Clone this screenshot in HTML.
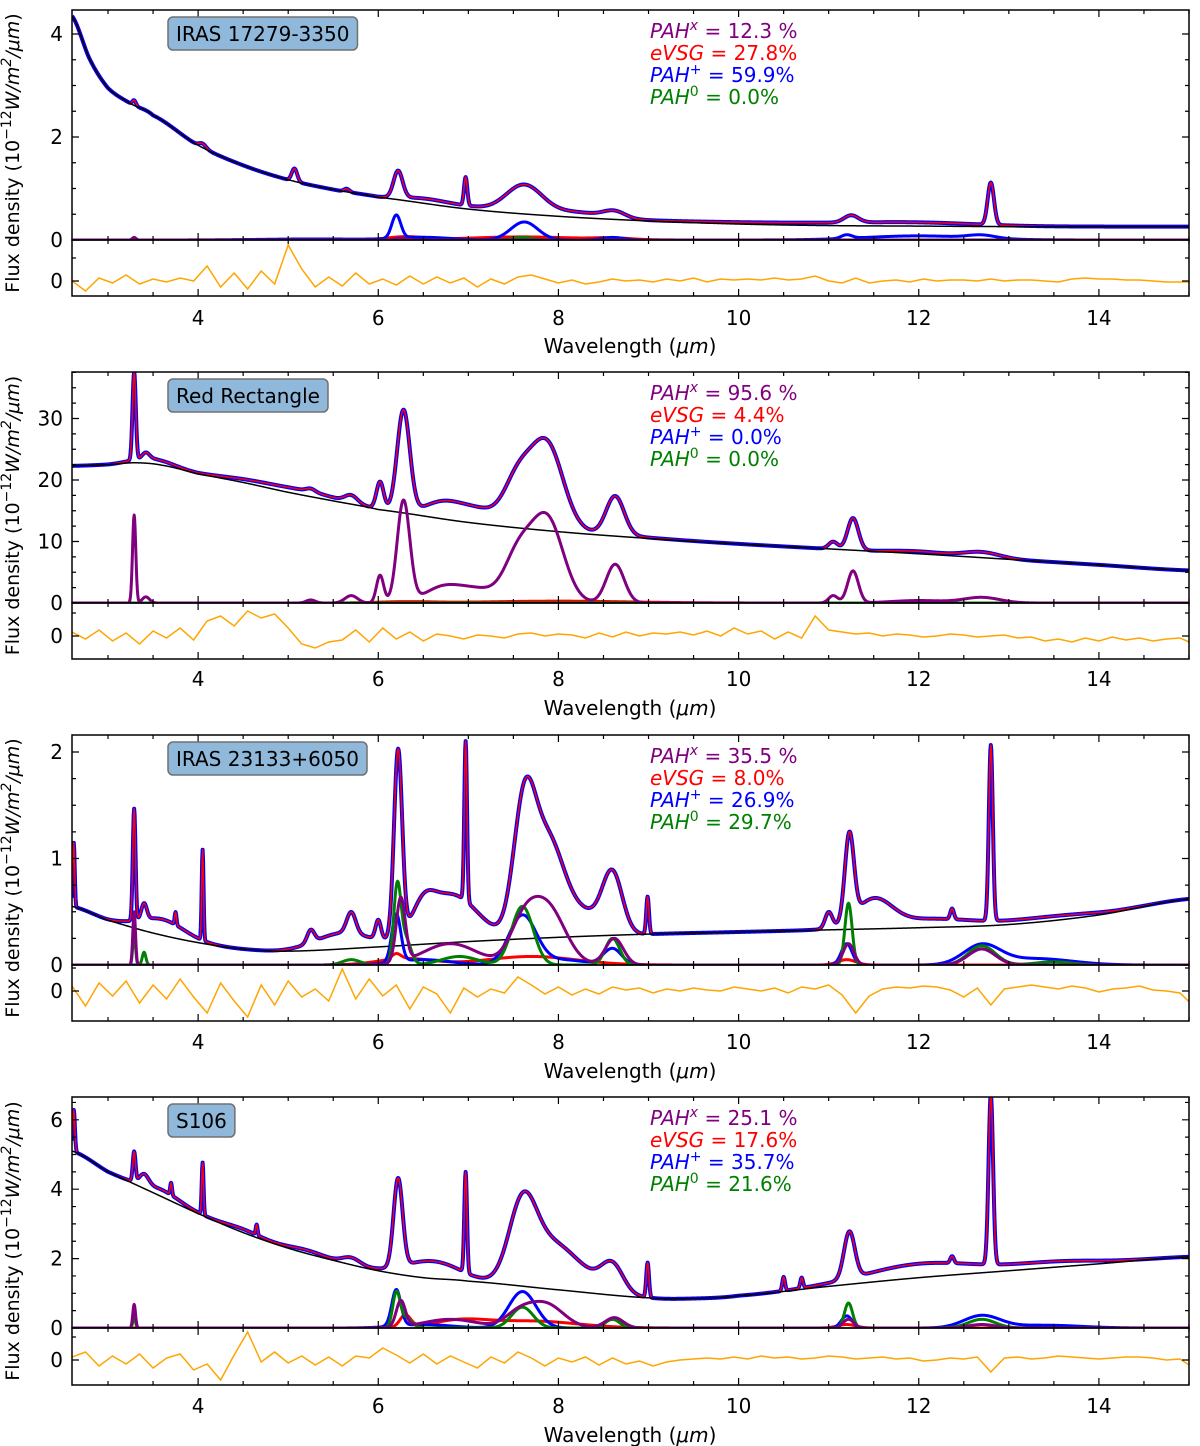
<!DOCTYPE html>
<html><head><meta charset="utf-8"><style>
html,body{margin:0;padding:0;background:#fff}
svg{display:block;font-family:"DejaVu Sans","Liberation Sans",sans-serif}
</style></head><body>
<svg id="fig" width="1200" height="1446" viewBox="0 0 1200 1446" xmlns="http://www.w3.org/2000/svg"></svg>
<script>
// ===== data =====
const xMin = 2.6, xMax = 15;
const xTicks = [4, 6, 8, 10, 12, 14];
const panelNames = ["IRAS 17279-3350", "Red Rectangle", "IRAS 23133+6050", "S106"];
const fracPAHx = ["12.3 %", "95.6 %", "35.5 %", "25.1 %"];
const fracVSG = ["27.8%", "4.4%", "8.0%", "17.6%"];
const fracPAHp = ["59.9%", "0.0%", "26.9%", "35.7%"];
const fracPAH0 = ["0.0%", "0.0%", "29.7%", "21.6%"];
const yTicks1 = [0, 2, 4];
const yTicks2 = [0, 10, 20, 30];
const yTicks3 = [0, 1, 2];
const yTicks4 = [0, 2, 4, 6];

// panel 1 continuum & features [center, amplitude, sigma]
const p1ContX = [2.6,2.8,3,3.25,3.5,4,4.5,5,5.5,6,7,8,9,10,11,12,13,14,15];
const p1ContY = [4.35,3.5,2.95,2.65,2.42,1.84,1.45,1.17,0.98,0.83,0.6,0.46,0.37,0.31,0.28,0.27,0.26,0.26,0.26];
const p1Total = [[3.29,0.1,0.02],[4.05,0.08,0.04],[5.07,0.25,0.03],[5.65,0.06,0.03],[6.22,0.52,0.05],[6.5,0.08,0.25],[6.97,0.55,0.018],[7.0,0.05,0.3],[7.62,0.55,0.2],[8.2,0.1,0.3],[8.62,0.13,0.12],[10.5,0.04,1.0],[11.25,0.14,0.08],[12.0,0.06,0.7],[12.8,0.82,0.035]];
const p1Blue = [[6.2,0.45,0.05],[6.5,0.05,0.3],[7.62,0.35,0.15],[8.6,0.05,0.12],[11.2,0.07,0.06],[12,0.08,0.6],[12.7,0.06,0.15],[5.3,0.02,0.6]];
const p1Red = [[6.3,0.06,0.2],[7.6,0.06,0.6],[8.6,0.03,0.2]];
const p1Purple = [[3.29,0.05,0.02],[6.25,0.04,0.06]];
const p1Green = [[7.6,0.05,0.1]];
const p1Resid = [0,-10,3,-2,6,-3,2,-1,3,0,15,-6,8,-8,10,-3,36,12,-6,4,-5,8,-3,2,-4,5,-3,4,-2,3,-6,2,-3,4,6,2,-2,1,-3,-1,2,0,1,-1,2,0,3,-1,2,1,2,1,3,1,2,5,0,-2,3,-2,0,1,-1,2,0,1,1,0,2,0,1,1,0,-1,2,3,2,2,1,1,0,-1,-1,-1];

// panel 2
const p2ContX = [2.6,3,3.3,3.6,4,4.5,5,5.5,6,7,8,9,10,11,12,13,14,15];
const p2ContY = [22.3,22.5,22.8,22.4,21,19.6,18,16.6,15.2,13.1,11.6,10.5,9.6,8.8,8,7.1,6.2,5.3];
const p2Purple = [[3.29,14.3,0.018],[3.42,1,0.04],[5.25,0.5,0.05],[5.7,1.2,0.07],[6.02,4.5,0.04],[6.28,16.5,0.07],[6.7,2.2,0.2],[7.1,2.2,0.25],[7.55,7,0.15],[7.87,13.8,0.18],[8.63,6.3,0.1],[11.05,1.2,0.05],[11.27,5.2,0.06],[12,0.4,0.3],[12.7,0.9,0.2]];
const p2Red = [[8,0.3,0.8],[6.3,0.2,0.3]];
const p2Blue = [];
const p2Green = [];
const p2Total = p2Purple.concat([[8,0.3,0.8],[3.5,0.8,0.2],[5.3,0.6,0.3],[4.7,0.6,0.4]]);
const p2Resid = [4,-3,6,-5,3,-8,5,-2,8,-4,15,20,10,25,18,22,8,-8,-12,-6,-4,6,-6,8,-3,4,-5,2,0,-3,1,0,-2,2,3,0,2,1,-2,3,-1,4,0,3,2,4,1,5,0,8,2,5,-3,4,-2,20,6,4,2,3,0,2,1,-1,0,2,1,-1,0,1,-2,-1,-5,-3,-6,-2,-5,-1,-4,-2,-5,-3,-2,-8];

// panel 3
const p3ContX = [2.6,3,3.5,4,4.5,5,6,7,8,9,10,11,12,13,14,15];
const p3ContY = [0.55,0.42,0.3,0.21,0.15,0.13,0.17,0.22,0.26,0.29,0.31,0.33,0.35,0.38,0.47,0.62];
const p3Total = [[2.62,0.6,0.01],[3.29,1.05,0.015],[3.4,0.15,0.03],[3.6,0.15,0.25],[3.75,0.12,0.01],[4.05,0.85,0.01],[5.25,0.12,0.04],[5.7,0.2,0.05],[6.0,0.18,0.03],[6.22,1.75,0.045],[6.5,0.2,0.12],[6.8,0.45,0.3],[6.97,1.5,0.015],[7.62,1.15,0.12],[7.88,0.9,0.18],[8.6,0.55,0.11],[8.3,0.2,0.2],[8.99,0.35,0.015],[11.0,0.15,0.04],[11.23,0.8,0.05],[11.5,0.25,0.2],[12.1,0.08,0.5],[12.37,0.1,0.02],[12.8,1.65,0.022],[5.6,0.15,0.3],[13.5,0.04,0.5]];
const p3Purple = [[3.29,0.5,0.015],[6.25,0.6,0.05],[6.8,0.2,0.3],[7.6,0.3,0.15],[7.87,0.55,0.2],[8.62,0.25,0.1],[11.22,0.2,0.06],[12.7,0.15,0.15]];
const p3Green = [[3.29,0.3,0.015],[3.4,0.12,0.02],[5.7,0.05,0.1],[6.21,0.7,0.04],[6.3,0.25,0.06],[6.9,0.08,0.2],[7.6,0.55,0.12],[8.6,0.25,0.08],[11.22,0.58,0.04],[12.7,0.18,0.15],[13.5,0.03,0.2]];
const p3Blue = [[6.2,0.45,0.05],[6.5,0.05,0.3],[7.6,0.45,0.15],[8.6,0.15,0.1],[11.2,0.2,0.06],[12.7,0.18,0.2],[13.3,0.06,0.4],[8.0,0.05,0.3]];
const p3Red = [[6.3,0.06,0.3],[7.7,0.08,0.5],[11.2,0.05,0.1],[6.2,0.05,0.05]];
const p3Resid = [5,-15,8,-5,10,-12,6,-8,12,-6,-22,8,-10,-26,6,-14,10,-6,2,-10,22,-8,12,-5,6,-18,4,-3,-22,3,-6,2,-2,14,6,-3,4,-4,2,-3,4,1,3,-2,2,0,3,1,0,4,2,0,3,-2,4,2,6,-4,-22,-5,2,4,3,5,4,1,-6,3,-14,2,4,6,4,2,5,3,-1,2,3,5,1,0,-2,-15];

// panel 4
const p4ContX = [2.6,3,3.5,4,4.5,5,5.5,6,6.5,7,8,9,9.5,10,11,12,13,14,15];
const p4ContY = [5.1,4.5,3.9,3.3,2.75,2.3,1.95,1.65,1.45,1.35,1.1,0.87,0.85,0.93,1.2,1.45,1.65,1.85,2.05];
const p4Total = [[2.62,1.2,0.012],[3.29,0.85,0.015],[3.4,0.3,0.05],[3.7,0.35,0.01],[3.6,0.2,0.2],[4.05,1.5,0.01],[4.65,0.3,0.01],[4.5,0.1,0.2],[5.2,0.1,0.2],[5.7,0.2,0.1],[6.22,2.55,0.05],[6.6,0.5,0.3],[6.97,2.9,0.015],[7.6,2.1,0.15],[7.9,1.2,0.25],[8.3,0.4,0.25],[8.6,0.75,0.12],[8.99,1.0,0.015],[10.5,0.4,0.015],[10.7,0.3,0.015],[11.23,1.35,0.06],[12.0,0.4,0.6],[12.37,0.2,0.02],[12.8,4.9,0.025],[13.5,0.15,0.5]];
const p4Blue = [[3.29,0.4,0.015],[6.2,1.05,0.05],[6.5,0.1,0.3],[7.6,1.05,0.15],[8.6,0.25,0.1],[11.2,0.35,0.06],[12.7,0.35,0.2],[13.4,0.08,0.4]];
const p4Green = [[3.29,0.3,0.015],[6.2,0.95,0.04],[6.3,0.3,0.07],[7.6,0.6,0.12],[8.6,0.25,0.08],[11.22,0.72,0.045],[12.7,0.25,0.15]];
const p4Purple = [[3.29,0.68,0.015],[6.25,0.75,0.05],[6.8,0.25,0.3],[7.55,0.35,0.15],[7.85,0.7,0.2],[8.62,0.3,0.1],[11.22,0.25,0.06],[12.7,0.1,0.15]];
const p4Red = [[6.3,0.35,0.06],[6.9,0.2,0.3],[7.7,0.2,0.5],[11.2,0.1,0.1]];
const p4Resid = [3,8,-6,4,-4,6,-8,2,6,-10,-4,-20,5,28,-2,8,-3,4,-5,3,-6,4,2,12,5,-3,6,-4,4,-2,-8,3,-3,8,2,-6,2,-2,3,-5,2,-4,-1,-6,-2,0,1,2,1,3,1,4,2,3,1,2,4,3,1,2,3,1,2,-1,0,2,1,3,-12,2,3,1,2,4,3,2,1,2,3,3,2,0,1,-8];

// ===== layout =====
const X0 = 72, X1 = 1189;
const layouts = [
 {top:10, zero:240, s:51.5, maj:2, min:0.5, rz:281, rb:296, tl:325, xl:353, yt:yTicks1, c:[p1ContX,p1ContY], tot:p1Total, comps:{red:p1Red, blue:p1Blue, green:p1Green, purple:p1Purple}, res:p1Resid},
 {top:372, zero:603, s:6.15, maj:10, min:2.5, rz:636, rb:659, tl:686, xl:715, yt:yTicks2, c:[p2ContX,p2ContY], tot:p2Total, comps:{red:p2Red, blue:p2Blue, green:p2Green, purple:p2Purple}, res:p2Resid},
 {top:735, zero:965, s:106.5, maj:1, min:0.25, rz:991, rb:1021, tl:1049, xl:1078, yt:yTicks3, c:[p3ContX,p3ContY], tot:p3Total, comps:{red:p3Red, blue:p3Blue, green:p3Green, purple:p3Purple}, res:p3Resid},
 {top:1097, zero:1328, s:34.7, maj:2, min:0.5, rz:1360, rb:1385, tl:1413, xl:1442, yt:yTicks4, c:[p4ContX,p4ContY], tot:p4Total, comps:{red:p4Red, blue:p4Blue, green:p4Green, purple:p4Purple}, res:p4Resid}
];
const NS = "http://www.w3.org/2000/svg";
const svg = document.getElementById("fig");
function mk(tag, attrs, parent){const e=document.createElementNS(NS,tag);for(const k in attrs)e.setAttribute(k,attrs[k]);(parent||svg).appendChild(e);return e;}
const xs = v => X0 + (v - xMin) / (xMax - xMin) * (X1 - X0);
function interp(kx, ky, x){
  if (x <= kx[0]) return ky[0];
  for (let i=0;i<kx.length-1;i++){
    if (x <= kx[i+1]){
      const t=(x-kx[i])/(kx[i+1]-kx[i]);
      const p0=ky[Math.max(i-1,0)],p1=ky[i],p2=ky[i+1],p3=ky[Math.min(i+2,ky.length-1)];
      return 0.5*((2*p1)+(-p0+p2)*t+(2*p0-5*p1+4*p2-p3)*t*t+(-p0+3*p1-3*p2+p3)*t*t*t);
    }
  }
  return ky[ky.length-1];
}
function gsum(list, x){let s=0;for(const g of list){const d=(x-g[0])/g[2];if(Math.abs(d)<8)s+=g[1]*Math.exp(-0.5*d*d);}return s;}
const grid=[];for(let x=xMin;x<=xMax+1e-9;x+=0.005)grid.push(x);

layouts.forEach((L, pi) => {
  const g = mk("g", {});
  
  
  const ys = v => L.zero - v * L.s;
  const clipId = "clip"+pi, clipR = "clipr"+pi;
  const defs = mk("defs", {}, g);
  const cp = mk("clipPath", {id:clipId}, defs); mk("rect",{x:X0,y:L.top,width:X1-X0,height:L.zero-L.top},cp);
  const cr = mk("clipPath", {id:clipR}, defs); mk("rect",{x:X0,y:L.zero,width:X1-X0,height:L.rb-L.zero},cr);
  const plot = mk("g", {"clip-path":"url(#"+clipId+")"}, g);
  function line(fn, color, w, name){
    let d=""; grid.forEach((x,i)=>{d+=(i?"L":"M")+xs(x).toFixed(2)+","+ys(fn(x)).toFixed(2);});
    const p = mk("path",{d:d,fill:"none",stroke:color,"stroke-width":w,"stroke-linejoin":"round"},plot);
    
    
  }
  const cont = x => interp(L.c[0], L.c[1], x);
  line(x => cont(x) + gsum(L.tot, x), "#0000ff", 4, "observed-spectrum");
  line(x => cont(x) + gsum(L.tot, x), "#ff0000", 1.5, "model-fit");
  line(cont, "#000", 1.5, "continuum");
  line(x => gsum(L.comps.red, x), "#ff0000", 3, "evsg-component");
  line(x => gsum(L.comps.blue, x), "#0000ff", 3, "pah-cation-component");
  line(x => gsum(L.comps.green, x), "#008000", 3, "pah-neutral-component");
  line(x => gsum(L.comps.purple, x), "#800080", 3, "pah-x-component");
  // residual
  const rp = mk("g", {"clip-path":"url(#"+clipR+")"}, g);
  let d=""; L.res.forEach((v,i)=>{d+=(i?"L":"M")+xs(xMin+0.15*i).toFixed(2)+","+(L.rz - v).toFixed(2);});
  const rl = mk("path",{d:d,fill:"none",stroke:"#ffa500","stroke-width":1.5},rp);
  
  
  // frames
  mk("rect",{x:X0,y:L.top,width:X1-X0,height:L.zero-L.top,fill:"none",stroke:"#000","stroke-width":1.5},g);
  mk("rect",{x:X0,y:L.zero,width:X1-X0,height:L.rb-L.zero,fill:"none",stroke:"#000","stroke-width":1.5},g);
  let td="";
  for (let v=3; v<=15; v+=0.5){
    const X=xs(v), major=(v%2===0), len=major?7:4;
    td+=`M${X},${L.top}v${len}M${X},${L.zero}v${-len}M${X},${L.zero}v${len}M${X},${L.rb}v${-len}`;
  }
  const ymax=(L.zero-L.top)/L.s;
  for (let v=0; v<=ymax+1e-9; v+=L.min){
    const Y=ys(v), major=Math.abs(v/L.maj-Math.round(v/L.maj))<1e-6, len=major?7:4;
    td+=`M${X0},${Y}h${len}M${X1},${Y}h${-len}`;
  }
  td+=`M${X0},${L.rz}h7M${X1},${L.rz}h-7M${X0},${L.rz-23}h4M${X1},${L.rz-23}h-4`;
  mk("path",{d:td,stroke:"#000","stroke-width":1.2,fill:"none"},g);
  xTicks.forEach(v=>{
    const t=mk("text",{x:xs(v),y:L.tl,"text-anchor":"middle","font-size":20},g); t.textContent=v;
    
    
  });
  L.yt.forEach(v=>{
    const t=mk("text",{x:63,y:ys(v)+7,"text-anchor":"end","font-size":20},g); t.textContent=v;
    
    
  });
  const r0=mk("text",{x:63,y:L.rz+7,"text-anchor":"end","font-size":20},g); r0.textContent="0";
  
  
  const xl=mk("text",{x:630,y:L.xl,"text-anchor":"middle","font-size":20},g);
  xl.innerHTML='Wavelength (<tspan font-style="italic">μm</tspan>)';
  
  
  const cy=(L.top+L.rb)/2;
  const yl=mk("text",{x:0,y:0,"text-anchor":"middle","font-size":19,transform:`translate(19,${cy}) rotate(-90)`},g);
  yl.innerHTML='Flux density (10<tspan dy="-8" font-size="14">−12</tspan><tspan dy="8" font-style="italic">W/m</tspan><tspan dy="-8" font-size="14" font-style="italic">2</tspan><tspan dy="8" font-style="italic">/μm</tspan>)';
  
  
  const nm=panelNames[pi];
  const bx = mk("rect",{x:168,y:L.top+7,width:100,height:33,rx:5,fill:"#8fb8da",stroke:"#707070","stroke-width":1.5},g);
  
  
  const bt=mk("text",{x:176,y:L.top+31,"font-size":20},g); bt.textContent=nm;
  
  
  try { bx.setAttribute("width", bt.getComputedTextLength()+16); } catch(e) {}
  const rows=[["#800080",'<tspan font-style="italic">PAH</tspan><tspan dy="-8" font-size="14" font-style="italic">x</tspan><tspan dy="8"> =  '+fracPAHx[pi]+'</tspan>',"pahx-fraction"],
    ["#ff0000",'<tspan font-style="italic">eVSG</tspan> =  '+fracVSG[pi],"evsg-fraction"],
    ["#0000ff",'<tspan font-style="italic">PAH</tspan><tspan dy="-8" font-size="14">+</tspan><tspan dy="8"> =  '+fracPAHp[pi]+'</tspan>',"pah-cation-fraction"],
    ["#008000",'<tspan font-style="italic">PAH</tspan><tspan dy="-8" font-size="14">0</tspan><tspan dy="8"> =  '+fracPAH0[pi]+'</tspan>',"pah-neutral-fraction"]];
  rows.forEach((r,i)=>{
    const t=mk("text",{x:650,y:L.top+28+i*22,"font-size":20,fill:r[0]},g); t.innerHTML=r[1];
    
    
  });
});
</script>
</body></html>
